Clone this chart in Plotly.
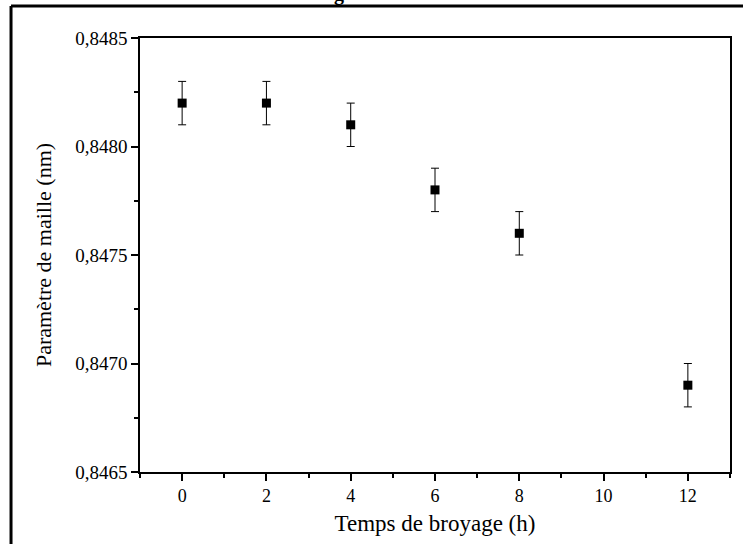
import plotly.graph_objects as go

# temps de broyage (h) et parametre de maille (nm)
temps = [0, 2, 4, 6, 8, 12]
parametre = [0.8482, 0.8482, 0.8481, 0.8478, 0.8476, 0.8469]
erreur = [0.0001, 0.0001, 0.0001, 0.0001, 0.0001, 0.0001]

serif = "Liberation Serif"

fig = go.Figure()
fig.add_trace(go.Scatter(
    x=temps, y=parametre, mode="markers",
    marker=dict(symbol="square", size=9, color="black"),
    error_y=dict(type="data", array=erreur, visible=True,
                 color="black", thickness=1, width=4),
    showlegend=False,
))

axis_common = dict(
    showline=True, linecolor="black", linewidth=1.5, mirror=True,
    showgrid=False, zeroline=False, ticks="outside", ticklen=7,
    tickwidth=1.5, tickcolor="black",
)

fig.update_xaxes(
    range=[-1, 13], dtick=2, tick0=0,
    tickfont=dict(family=serif, size=18, color="black"),
    minor=dict(dtick=1, ticks="outside", ticklen=4, tickwidth=1.5, tickcolor="black"),
    title=dict(text="Temps de broyage (h)", font=dict(family=serif, size=23, color="black"), standoff=10),
    **axis_common,
)
fig.update_yaxes(
    range=[0.8465, 0.8485], dtick=0.0005, tick0=0.8465, tickformat=".4f",
    tickfont=dict(family=serif, size=19, color="black"),
    minor=dict(dtick=0.00025, ticks="outside", ticklen=4, tickwidth=1.5, tickcolor="black"),
    title=dict(text="Paramètre de maille (nm)", font=dict(family=serif, size=22, color="black"), standoff=18),
    **axis_common,
)

# cadre exterieur du document (coupe a droite et en bas)
fig.add_shape(type="line", xref="paper", yref="paper",
              x0=-0.2186, y0=1.0737, x1=1.1, y1=1.0737,
              line=dict(color="black", width=3))
fig.add_shape(type="line", xref="paper", yref="paper",
              x0=-0.2186, y0=1.0737, x1=-0.2186, y1=-0.3,
              line=dict(color="black", width=3))

# bas du titre coupe en haut de la page
fig.add_annotation(text="<b>g</b>", xref="paper", yref="paper",
                   x=(339 - 140) / 590, y=1 + (38 - 6) / 434,
                   yanchor="bottom", showarrow=False, borderpad=0,
                   font=dict(family=serif, size=20, color="black"))

fig.update_layout(
    width=743, height=544,
    margin=dict(l=140, r=13, t=38, b=72, autoexpand=False),
    paper_bgcolor="white", plot_bgcolor="white",
    separators=", ",
    font=dict(family=serif, color="black"),
)

fig.write_html("out.html", config={"displayModeBar": False},
               post_script="document.body.style.margin='0';")
